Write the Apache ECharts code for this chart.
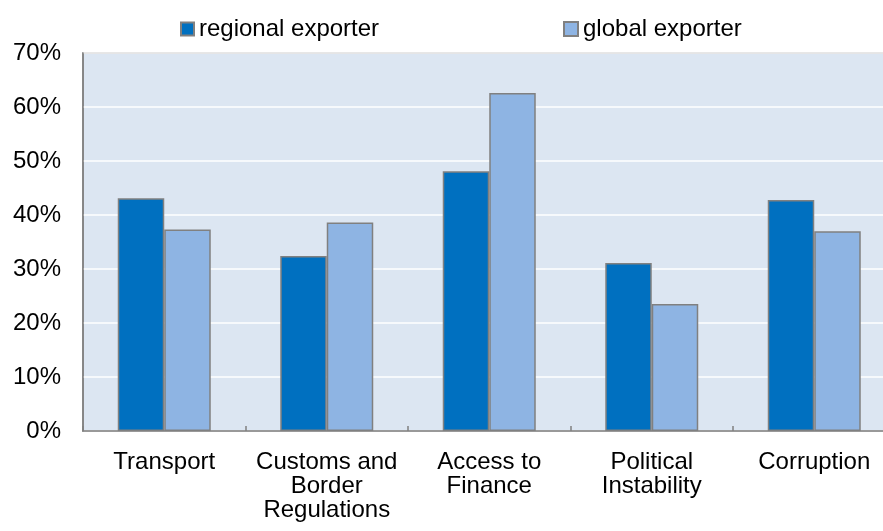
<!DOCTYPE html>
<html>
<head>
<meta charset="utf-8">
<script src="https://cdn.jsdelivr.net/npm/echarts@6/dist/echarts.min.js"></script>
<style>
  html, body { margin: 0; padding: 0; background: #ffffff; }
  #chart { width: 883px; height: 531px; }
</style>
</head>
<body>
<div id="chart"></div>
<script>
// Obstacles to exporting: share of firms citing each area
const categories = ['Transport', 'Customs and\nBorder\nRegulations', 'Access to\nFinance', 'Political\nInstability', 'Corruption'];
const regionalExporter = [43.1, 32.4, 48.1, 31.1, 42.8];
const globalExporter = [37.3, 38.6, 62.6, 23.5, 37.0];
const yTicks = { min: 0, max: 70, step: 10 };

const FONT = 'Liberation Sans, Arial, sans-serif';
const FS = 24;
const EDGE = '#808080';

const chart = echarts.init(document.getElementById('chart'), null, { renderer: 'canvas' });

chart.setOption({
  animation: false,
  backgroundColor: '#ffffff',
  textStyle: { fontFamily: FONT },
  grid: {
    left: 83, top: 53, bottom: 100, right: -12.5,
    outerBoundsMode: 'none',
    containLabel: false,
    show: true,
    backgroundColor: '#DCE6F2',
    borderColor: EDGE,
    borderWidth: 1.5
  },
  legend: [
    {
      data: ['regional exporter'],
      left: 175, top: 12,
      icon: 'rect', itemWidth: 13, itemHeight: 13, itemGap: 6,
      textStyle: { fontFamily: FONT, fontSize: FS, color: '#000' }
    },
    {
      data: ['global exporter'],
      left: 558, top: 12,
      icon: 'rect', itemWidth: 14, itemHeight: 14, itemGap: 5,
      textStyle: { fontFamily: FONT, fontSize: FS, color: '#000' }
    }
  ],
  xAxis: {
    type: 'category',
    data: categories,
    axisLine: { show: true, lineStyle: { color: EDGE, width: 1.5 } },
    axisTick: { show: true, inside: true, length: 5, lineStyle: { color: EDGE, width: 1.5 } },
    axisLabel: {
      interval: 0, margin: 19,
      fontFamily: FONT, fontSize: FS, color: '#000', lineHeight: 24
    },
    splitLine: { show: false }
  },
  yAxis: {
    type: 'value',
    min: yTicks.min, max: yTicks.max, interval: yTicks.step,
    axisLine: { show: true, lineStyle: { color: EDGE, width: 1.5 } },
    axisTick: { show: false },
    axisLabel: {
      formatter: '{value}%', margin: 22,
      padding: [5, 0, 0, 0],
      fontFamily: FONT, fontSize: FS, color: '#000'
    },
    splitLine: { show: true, lineStyle: { color: '#ffffff', width: 1.5 } }
  },
  series: [
    {
      name: 'regional exporter',
      type: 'bar',
      data: regionalExporter,
      barWidth: 46.5,
      barGap: '0%',
      itemStyle: { color: '#0070C0', borderColor: EDGE, borderWidth: 1.5 }
    },
    {
      name: 'global exporter',
      type: 'bar',
      data: globalExporter,
      barWidth: 46.5,
      barGap: '0%',
      itemStyle: { color: '#8EB4E3', borderColor: EDGE, borderWidth: 1.5 }
    }
  ]
});
</script>
</body>
</html>
